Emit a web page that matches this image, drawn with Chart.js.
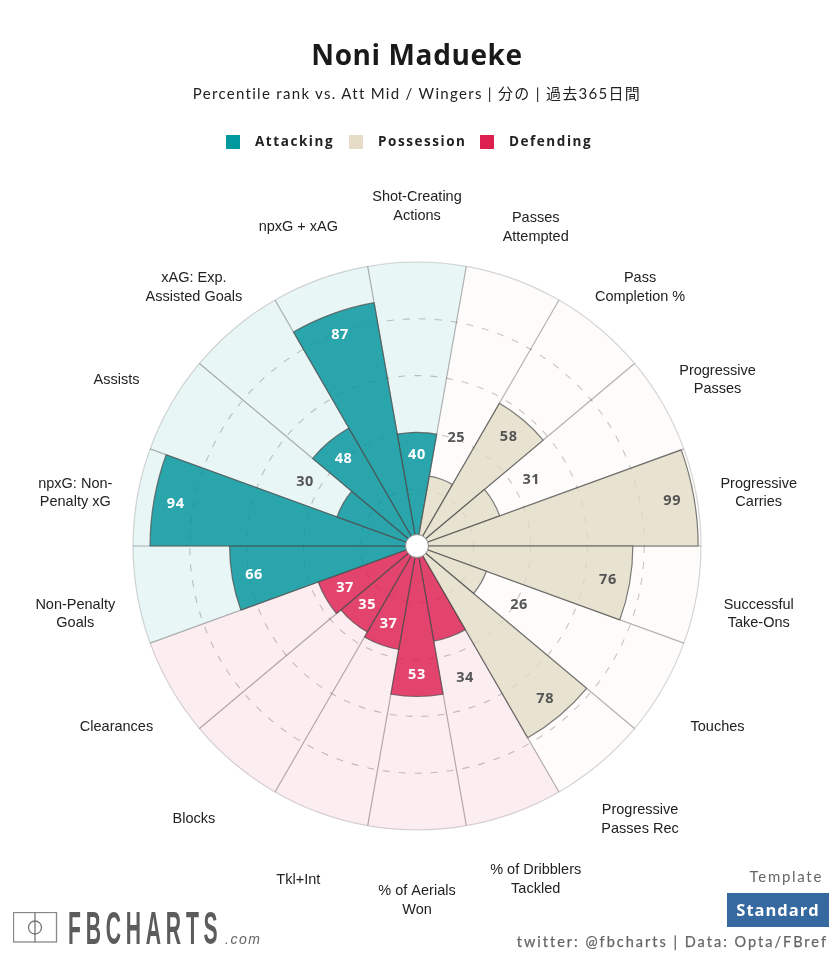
<!DOCTYPE html>
<html>
<head>
<meta charset="utf-8">
<script src="https://cdn.jsdelivr.net/npm/chart.js@4"></script>
<style>
  html, body { margin: 0; padding: 0; background: #fff; }
  #page { position: relative; width: 831px; height: 953px; overflow: hidden; font-family: Lato, sans-serif; }
  #chart { position: absolute; left: 0; top: 0; }
  .txt { position: absolute; white-space: nowrap; }
  #title { left: 0; width: 834px; top: 35px; text-align: center; font-family: "Open Sans", sans-serif; font-size: 28px; font-weight: 700; color: #1a1a1a; letter-spacing: 0.6px; }
  #subtitle { left: 0; width: 834px; top: 82px; text-align: center; font-size: 15px; color: #222; letter-spacing: 1.3px; font-family: Lato, "Noto Sans CJK JP", sans-serif; }
  .swatch { position: absolute; top: 135px; width: 14px; height: 14px; }
  .legend { top: 132px; font-family: "Open Sans", sans-serif; font-size: 13.5px; font-weight: 700; color: #222; letter-spacing: 1.55px; }
  #template { right: 8px; top: 867px; font-size: 15px; color: #666; letter-spacing: 1.7px; }
  #standard { left: 727px; top: 893px; width: 102px; height: 34px; line-height: 34px; text-align: center; background: #3669a0; color: #fff; font-family: "Open Sans", sans-serif; font-size: 16.5px; font-weight: 700; letter-spacing: 1px; }
  #credit { right: 3px; top: 933px; font-size: 14.5px; color: #666; letter-spacing: 2px; -webkit-text-stroke: 0.25px #666; }
  #logo { left: 68px; top: 901px; font-family: "Liberation Sans", sans-serif; font-weight: 700; font-size: 47px; line-height: 54px; color: #5c5c5c; letter-spacing: 10.6px; transform: scaleX(0.45); transform-origin: left top; }
  #dotcom { left: 225px; top: 931px; font-family: "Liberation Sans", sans-serif; font-style: italic; font-size: 14px; color: #666; letter-spacing: 1.5px; }
  #pitch { position: absolute; left: 13px; top: 912px; }
</style>
</head>
<body>
<div id="page">
  <canvas id="chart" width="831" height="953"></canvas>
  <div class="txt" id="title">Noni Madueke</div>
  <div class="txt" id="subtitle">Percentile rank vs. Att Mid / Wingers | 分の | 過去365日間</div>

  <div class="swatch" style="left:226px;background:#00999e"></div>
  <div class="txt legend" style="left:255px">Attacking</div>
  <div class="swatch" style="left:349px;background:#e6ddc6"></div>
  <div class="txt legend" style="left:378px">Possession</div>
  <div class="swatch" style="left:480px;background:#dd1f4f"></div>
  <div class="txt legend" style="left:509px">Defending</div>

  <svg id="pitch" width="45" height="32">
    <rect x="0.5" y="0.5" width="43" height="29.5" fill="none" stroke="#888" stroke-width="1.3"/>
    <line x1="22" y1="0" x2="22" y2="30" stroke="#777" stroke-width="1.3"/>
    <circle cx="22" cy="15.5" r="6.5" fill="none" stroke="#777" stroke-width="1.3"/>
  </svg>
  <div class="txt" id="logo">FBCHARTS</div>
  <div class="txt" id="dotcom">.com</div>
  <div class="txt" id="template">Template</div>
  <div class="txt" id="standard">Standard</div>
  <div class="txt" id="credit">twitter: @fbcharts | Data: Opta/FBref</div>
</div>

<script>
const labels = [
  ["Shot-Creating", "Actions"],
  ["Passes", "Attempted"],
  ["Pass", "Completion %"],
  ["Progressive", "Passes"],
  ["Progressive", "Carries"],
  ["Successful", "Take-Ons"],
  ["Touches"],
  ["Progressive", "Passes Rec"],
  ["% of Dribblers", "Tackled"],
  ["% of Aerials", "Won"],
  ["Tkl+Int"],
  ["Blocks"],
  ["Clearances"],
  ["Non-Penalty", "Goals"],
  ["npxG: Non-", "Penalty xG"],
  ["Assists"],
  ["xAG: Exp.", "Assisted Goals"],
  ["npxG + xAG"],
];
const percentiles = [40, 25, 58, 31, 99, 76, 26, 78, 34, 53, 37, 35, 37, 66, 94, 30, 48, 87];
const groups = ["a", "p", "p", "p", "p", "p", "p", "p", "d", "d", "d", "d", "d", "a", "a", "a", "a", "a"];
const fullScale = [100, 100, 100, 100, 100, 100, 100, 100, 100, 100, 100, 100, 100, 100, 100, 100, 100, 100];

const wedge_colors = { a: "rgba(0,148,155,0.82)", p: "rgba(226,219,196,0.75)", d: "rgba(221,31,79,0.82)" };
const back_colors = { a: "rgba(0,148,155,0.085)", p: "rgba(226,219,196,0.08)", d: "rgba(221,31,79,0.08)" };
const value_colors = { a: "#fff", p: "#555", d: "#fff" };

// category labels, value labels and the white hub on top of the wedges
const radarText = {
  id: "radarText",
  afterDatasetsDraw(chart) {
    const ctx = chart.ctx;
    const scale = chart.scales.r;
    ctx.save();
    ctx.textAlign = "center";
    ctx.textBaseline = "middle";

    ctx.font = "14.5px 'Liberation Sans', Arial, sans-serif";
    ctx.fillStyle = "#222";
    labels.forEach((lines, i) => {
      let pos = scale.getPointPosition(i + 0.5, 347);
      let y = pos.y + 7.5 - ((lines.length - 1) * 18.5) / 2;
      lines.forEach((line, k) => ctx.fillText(line, pos.x, y + k * 18.5));
    });

    ctx.font = "bold 14.5px 'Open Sans', sans-serif";
    ctx.letterSpacing = "0.6px";
    percentiles.forEach((value, i) => {
      let inside = value >= 35;
      let r = scale.getDistanceFromCenterForValue(value) + (inside ? -22 : 44);
      let pos = scale.getPointPosition(i + 0.5, r);
      ctx.fillStyle = inside ? value_colors[groups[i]] : "#555";
      ctx.fillText(value, pos.x, pos.y);
    });

    ctx.beginPath();
    ctx.arc(scale.xCenter, scale.yCenter, 11.5, 0, Math.PI * 2);
    ctx.fillStyle = "#fff";
    ctx.fill();
    ctx.lineWidth = 1;
    ctx.strokeStyle = "#888";
    ctx.stroke();
    ctx.restore();
  },
};

new Chart(document.getElementById("chart").getContext("2d"), {
  type: "polarArea",
  data: {
    labels: labels,
    datasets: [
      {
        data: percentiles,
        backgroundColor: groups.map((g) => wedge_colors[g]),
        borderColor: "rgba(80,80,80,0.75)",
        borderWidth: 1.2,
      },
      {
        data: fullScale,
        backgroundColor: groups.map((g) => back_colors[g]),
        borderColor: "rgba(0,0,0,0.16)",
        borderWidth: 1.2,
      },
    ],
  },
  options: {
    responsive: false,
    animation: false,
    layout: { padding: { left: 133, right: 130, top: 262, bottom: 123 } },
    plugins: {
      legend: { display: false },
      title: { display: false },
      tooltip: { enabled: false },
    },
    scales: {
      r: {
        min: 0,
        max: 100,
        startAngle: -10,
        ticks: { display: false, stepSize: 20 },
        grid: {
          circular: true,
          lineWidth: 1.1,
          color: (c) => (c.tick.value === 100 ? "transparent" : "#c4c4c4"),
        },
        border: { dash: [7, 9] },
      },
    },
  },
  plugins: [radarText],
});
</script>
</body>
</html>
